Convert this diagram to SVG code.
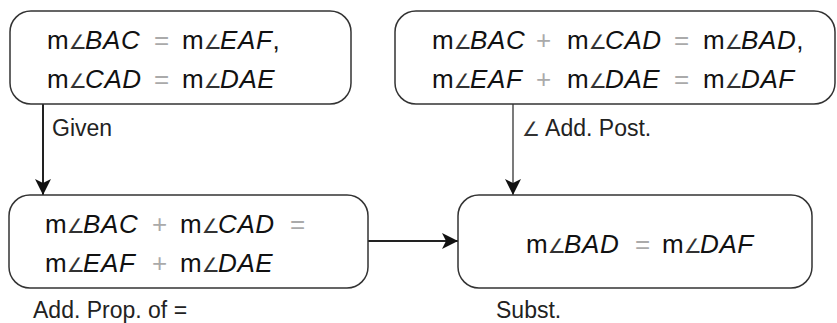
<svg xmlns="http://www.w3.org/2000/svg" width="837" height="323" viewBox="0 0 837 323">
<style>
.box{fill:#fff;stroke:#333;stroke-width:1.5}
.t{font-family:"Liberation Sans",Arial,"DejaVu Sans",sans-serif;font-size:26px;fill:#111}
.a{font-size:20px;fill:#333}
.i{font-style:italic;letter-spacing:0.6px}
.op{fill:#aaa}
.lbl{font-family:"Liberation Sans",Arial,sans-serif;font-size:23px;fill:#222}
.c{stroke:#222;fill:none}
</style>
<defs>
<marker id="ah" viewBox="0 0 16 16" refX="16" refY="8" markerWidth="16" markerHeight="16" markerUnits="userSpaceOnUse" orient="auto">
<path d="M0,0 L16,8 L0,16 L4,8 Z" fill="#111"/>
</marker>
</defs>
<rect width="837" height="323" fill="#fff"/>
<g id="connectors">
<line class="c" x1="43" y1="104" x2="43" y2="195" stroke-width="2" marker-end="url(#ah)"/>
<line class="c" x1="513" y1="104" x2="513" y2="195" stroke-width="1.2" marker-end="url(#ah)"/>
<line class="c" x1="368" y1="241" x2="458" y2="241" stroke-width="1.8" marker-end="url(#ah)"/>
<text class="lbl" x="52" y="136">Given</text>
<text class="lbl" x="522" y="136"><tspan class="a">∠</tspan> Add. Post.</text>
<text class="lbl" x="33" y="318">Add. Prop. of =</text>
<text class="lbl" x="496" y="318">Subst.</text>
</g>
<g id="n1">
<rect class="box" x="10" y="11" width="341" height="93" rx="21"/>
<text class="t" y="49"><tspan x="47">m</tspan><tspan class="a">∠</tspan><tspan class="i" x="85">BAC</tspan><tspan class="op" x="154">=</tspan><tspan x="182">m</tspan><tspan class="a">∠</tspan><tspan class="i" x="220">EAF</tspan><tspan>,</tspan></text>
<text class="t" y="88"><tspan x="47">m</tspan><tspan class="a">∠</tspan><tspan class="i" x="85">CAD</tspan><tspan class="op" x="154">=</tspan><tspan x="182">m</tspan><tspan class="a">∠</tspan><tspan class="i" x="220">DAE</tspan></text>
</g>
<g id="n2">
<rect class="box" x="395" y="11" width="440" height="93" rx="21"/>
<text class="t" y="49"><tspan x="432">m</tspan><tspan class="a">∠</tspan><tspan class="i" x="470">BAC</tspan><tspan class="op" x="536">+</tspan><tspan x="567">m</tspan><tspan class="a">∠</tspan><tspan class="i" x="605">CAD</tspan><tspan class="op" x="674">=</tspan><tspan x="703">m</tspan><tspan class="a">∠</tspan><tspan class="i" x="741">BAD</tspan><tspan>,</tspan></text>
<text class="t" y="88"><tspan x="432">m</tspan><tspan class="a">∠</tspan><tspan class="i" x="470">EAF</tspan><tspan class="op" x="536">+</tspan><tspan x="567">m</tspan><tspan class="a">∠</tspan><tspan class="i" x="605">DAE</tspan><tspan class="op" x="674">=</tspan><tspan x="703">m</tspan><tspan class="a">∠</tspan><tspan class="i" x="741">DAF</tspan></text>
</g>
<g id="n3">
<rect class="box" x="9" y="195" width="359" height="93" rx="21"/>
<text class="t" y="233"><tspan x="45">m</tspan><tspan class="a">∠</tspan><tspan class="i" x="83">BAC</tspan><tspan class="op" x="152">+</tspan><tspan x="180">m</tspan><tspan class="a">∠</tspan><tspan class="i" x="218">CAD</tspan><tspan class="op" x="290">=</tspan></text>
<text class="t" y="272"><tspan x="45">m</tspan><tspan class="a">∠</tspan><tspan class="i" x="83">EAF</tspan><tspan class="op" x="152">+</tspan><tspan x="180">m</tspan><tspan class="a">∠</tspan><tspan class="i" x="218">DAE</tspan></text>
</g>
<g id="n4">
<rect class="box" x="458" y="195" width="354" height="93" rx="21"/>
<text class="t" y="253"><tspan x="526">m</tspan><tspan class="a">∠</tspan><tspan class="i" x="564">BAD</tspan><tspan class="op" x="635">=</tspan><tspan x="662">m</tspan><tspan class="a">∠</tspan><tspan class="i" x="700">DAF</tspan></text>
</g>
</svg>
